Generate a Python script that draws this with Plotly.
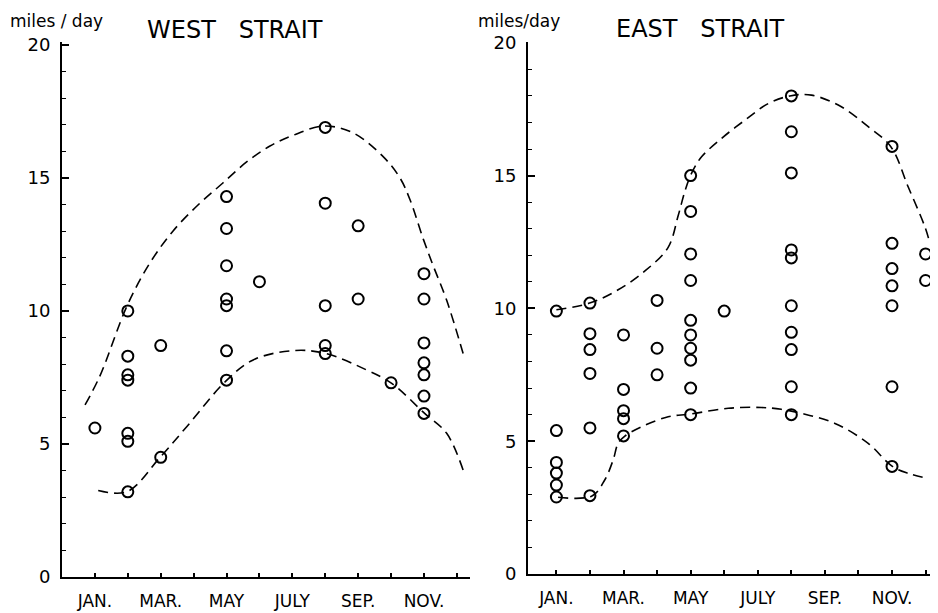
import plotly.graph_objects as go

# ---------------- data ----------------
month_ticks = [1, 2, 3, 4, 5, 6, 7, 8, 9, 10, 11, 12]
month_labels = ["JAN.", "", "MAR.", "", "MAY", "", "JULY", "", "SEP.", "", "NOV.", ""]

# West Strait observations (month, miles/day)
west_x = [1,
          2, 2, 2, 2, 2, 2, 2,
          3, 3,
          5, 5, 5, 5, 5, 5, 5,
          6,
          8, 8, 8, 8, 8,
          9, 9,
          10,
          11, 11, 11, 11, 11, 11, 11]
west_y = [5.6,
          10.0, 8.3, 7.6, 7.4, 5.4, 5.1, 3.2,
          8.7, 4.5,
          14.3, 13.1, 11.7, 10.45, 10.2, 8.5, 7.4,
          11.1,
          16.9, 14.05, 10.2, 8.7, 8.4,
          13.2, 10.45,
          7.3,
          11.4, 10.45, 8.8, 8.05, 7.6, 6.8, 6.15]

# West Strait envelope curves
west_upper_x = [0.70, 1.15, 1.98, 2.67, 3.37, 4.19, 4.88, 5.61, 6.32, 7.02, 7.96,
                8.84, 9.76, 10.27, 10.57, 10.98, 11.28, 11.69, 12.19]
west_upper_y = [6.47, 7.55, 10.2, 11.8, 13.0, 14.05, 14.8, 15.6, 16.2, 16.6, 16.95,
                16.7, 15.8, 15.0, 14.2, 12.7, 11.7, 10.4, 8.4]
west_lower_x = [1.10, 1.98, 2.98, 3.79, 4.96, 5.81, 7.03, 7.99, 9.26, 10.02, 11.02, 11.69, 12.19]
west_lower_y = [3.25, 3.21, 4.5, 5.65, 7.34, 8.16, 8.51, 8.41, 7.78, 7.28, 6.15, 5.4, 4.02]

# East Strait observations
east_x = [1, 1, 1, 1, 1, 1,
          2, 2, 2, 2, 2, 2,
          3, 3, 3, 3, 3,
          4, 4, 4,
          5, 5, 5, 5, 5, 5, 5, 5, 5, 5,
          6,
          8, 8, 8, 8, 8, 8, 8, 8, 8, 8,
          11, 11, 11, 11, 11, 11, 11,
          12, 12]
east_y = [9.9, 5.4, 4.2, 3.8, 3.35, 2.9,
          10.2, 9.05, 8.45, 7.55, 5.5, 2.95,
          9.0, 6.95, 6.15, 5.85, 5.2,
          10.3, 8.5, 7.5,
          15.0, 13.65, 12.05, 11.05, 9.55, 9.0, 8.5, 8.05, 7.0, 6.0,
          9.9,
          18.0, 16.65, 15.1, 12.2, 11.9, 10.1, 9.1, 8.45, 7.05, 6.0,
          16.1, 12.45, 11.5, 10.85, 10.1, 7.05, 4.05,
          12.05, 11.05]

east_upper_x = [1.0, 1.99, 2.84, 3.63, 4.33, 4.63, 4.85, 5.05, 5.32, 5.92, 6.61, 7.31, 7.96,
                8.6, 9.49, 10.29, 10.97, 11.48, 11.98, 12.13]
east_upper_y = [9.95, 10.2, 10.7, 11.4, 12.3, 13.5, 14.5, 15.15, 15.7, 16.4, 17.08, 17.71, 18.0,
                18.03, 17.59, 16.84, 16.08, 14.58, 13.07, 12.45]
east_lower_x = [1.05, 2.06, 2.44, 2.69, 2.84, 3.04, 3.53, 4.33, 4.97, 6.12, 7.11, 7.7,
                8.3, 9.3, 10.29, 11.0, 11.48, 12.08]
east_lower_y = [2.89, 2.94, 3.54, 4.29, 4.92, 5.19, 5.54, 5.92, 6.02, 6.24, 6.27, 6.2,
                6.05, 5.67, 4.92, 4.06, 3.79, 3.6]

# ---------------- figure ----------------
FONT = "DejaVu Sans"
marker_style = dict(symbol="circle-open", size=11, color="black", line=dict(width=2, color="black"))
dash_style = dict(color="black", width=1.6, dash="10px,6px", shape="spline", smoothing=1.0)

fig = go.Figure()
fig.add_trace(go.Scatter(x=west_upper_x, y=west_upper_y, mode="lines", line=dash_style,
                         xaxis="x", yaxis="y", showlegend=False, hoverinfo="skip"))
fig.add_trace(go.Scatter(x=west_lower_x, y=west_lower_y, mode="lines", line=dash_style,
                         xaxis="x", yaxis="y", showlegend=False, hoverinfo="skip"))
fig.add_trace(go.Scatter(x=west_x, y=west_y, mode="markers", marker=marker_style,
                         xaxis="x", yaxis="y", showlegend=False))
fig.add_trace(go.Scatter(x=east_upper_x, y=east_upper_y, mode="lines", line=dash_style,
                         xaxis="x2", yaxis="y2", showlegend=False, hoverinfo="skip"))
fig.add_trace(go.Scatter(x=east_lower_x, y=east_lower_y, mode="lines", line=dash_style,
                         xaxis="x2", yaxis="y2", showlegend=False, hoverinfo="skip"))
fig.add_trace(go.Scatter(x=east_x, y=east_y, mode="markers", marker=marker_style,
                         xaxis="x2", yaxis="y2", showlegend=False))

xcommon = dict(tickvals=month_ticks, ticktext=month_labels, ticks="inside", ticklen=4,
               tickwidth=1.5, tickcolor="black", showline=True, linewidth=2, linecolor="black",
               showgrid=False, zeroline=False, tickfont=dict(family=FONT, size=17, color="black"),
               ticklabelstandoff=8)
ycommon = dict(tickvals=[0, 5, 10, 15, 20], ticks="inside", ticklen=7, tickwidth=1.5,
               tickcolor="black", showline=True, linewidth=2, linecolor="black",
               showgrid=False, zeroline=False,
               minor=dict(dtick=1, ticks="inside", ticklen=3.5, tickwidth=1.2, tickcolor="black",
                          showgrid=False),
               tickfont=dict(family=FONT, size=18, color="black"), ticklabelstandoff=6)

# page has an 8px body margin, so the figure is 930x605 placed at (8, 8)
fig.update_layout(
    width=930, height=605,
    margin=dict(l=54, r=0, t=34, b=36),
    paper_bgcolor="white", plot_bgcolor="white",
    xaxis=dict(domain=[0, 0.4658], range=[0, 12.4], anchor="y", **xcommon),
    yaxis=dict(domain=[0, 1], range=[0, 20.11], anchor="x", **ycommon),
    xaxis2=dict(domain=[0.532, 1.0], range=[0.155, 12.37], anchor="y2", **xcommon),
    yaxis2=dict(domain=[0.0056, 1], range=[0, 20.03], anchor="x2", **ycommon),
    annotations=[
        dict(text="miles / day", xref="paper", yref="paper", x=-0.0616, y=1.062,
             xanchor="left", yanchor="top", showarrow=False,
             font=dict(family=FONT, size=17, color="black")),
        dict(text="miles/day", xref="paper", yref="paper", x=0.4726, y=1.062,
             xanchor="left", yanchor="top", showarrow=False,
             font=dict(family=FONT, size=17, color="black")),
        dict(text="WEST   STRAIT", xref="paper", yref="paper", x=0.1975, y=1.0224,
             xanchor="center", yanchor="middle", showarrow=False,
             font=dict(family=FONT, size=24, color="black")),
        dict(text="EAST   STRAIT", xref="paper", yref="paper", x=0.7283, y=1.0243,
             xanchor="center", yanchor="middle", showarrow=False,
             font=dict(family=FONT, size=24, color="black")),
    ],
)

fig.write_html("out.html")
